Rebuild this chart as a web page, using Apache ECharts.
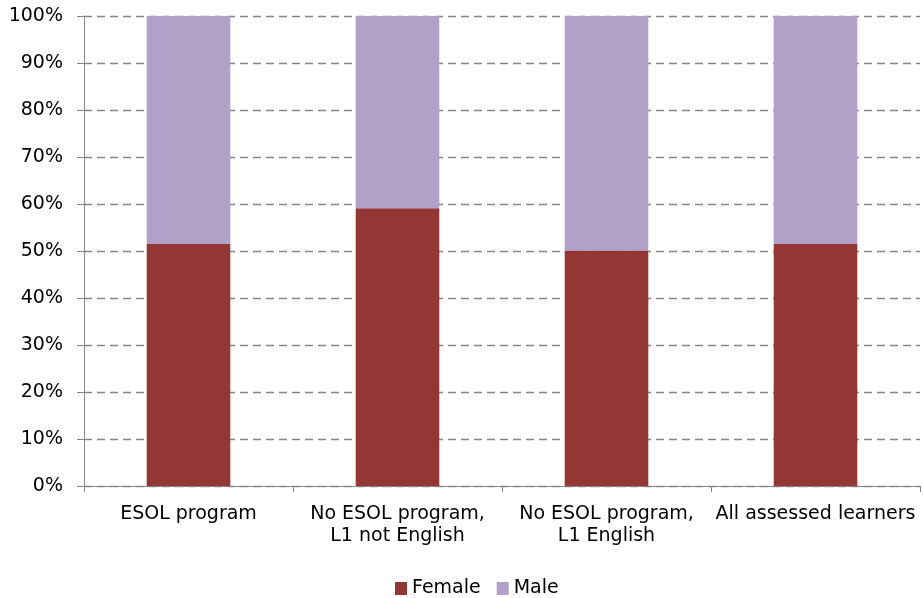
<!DOCTYPE html>
<html>
<head>
<meta charset="utf-8">
<script src="https://cdn.jsdelivr.net/npm/echarts@6/dist/echarts.min.js"></script>
<style>html,body{margin:0;padding:0;background:#fff}#c{width:923px;height:598px}</style>
</head>
<body>
<div id="c"></div>
<script>
const categories = ["ESOL program", "No ESOL program,\nL1 not English", "No ESOL program,\nL1 English", "All assessed learners"];
const female = [51.5, 59.1, 50.1, 51.5];
const male = [48.5, 40.9, 49.9, 48.5];
const seriesNames = ["Female", "Male"];

const chart = echarts.init(document.getElementById('c'), null, {renderer: 'canvas'});
const FONT = 'DejaVu Sans';
chart.setOption({
  animation: false,
  backgroundColor: '#ffffff',
  grid: {left: 84, right: 3, top: 16, bottom: 112, containLabel: false},
  legend: {
    data: seriesNames,
    left: 390, top: 574,
    itemWidth: 12, itemHeight: 13, itemGap: 16,
    icon: 'rect',
    textStyle: {fontFamily: FONT, fontSize: 19, color: '#000'}
  },
  xAxis: {
    type: 'category',
    data: categories,
    axisLine: {show: true, lineStyle: {color: '#868686', width: 1}},
    axisTick: {show: true, length: 6, lineStyle: {color: '#868686'}},
    axisLabel: {interval: 0, margin: 17, fontFamily: FONT, fontSize: 19, lineHeight: 22, color: '#000'},
    splitLine: {show: false}
  },
  yAxis: {
    type: 'value', min: 0, max: 100, interval: 10,
    axisLine: {show: true, lineStyle: {color: '#868686', width: 1}},
    axisTick: {show: true, length: 7, lineStyle: {color: '#868686'}},
    axisLabel: {formatter: '{value}%', margin: 21, fontFamily: FONT, fontSize: 19, color: '#000'},
    splitLine: {show: true, lineStyle: {color: '#868686', width: 1.3, type: [8, 5]}}
  },
  series: [
    {name: seriesNames[0], type: 'bar', stack: 'total', data: female, barWidth: '40%',
     itemStyle: {color: '#943634'}},
    {name: seriesNames[1], type: 'bar', stack: 'total', data: male, barWidth: '40%',
     itemStyle: {color: '#B1A0C7'}}
  ]
});
</script>
</body>
</html>
